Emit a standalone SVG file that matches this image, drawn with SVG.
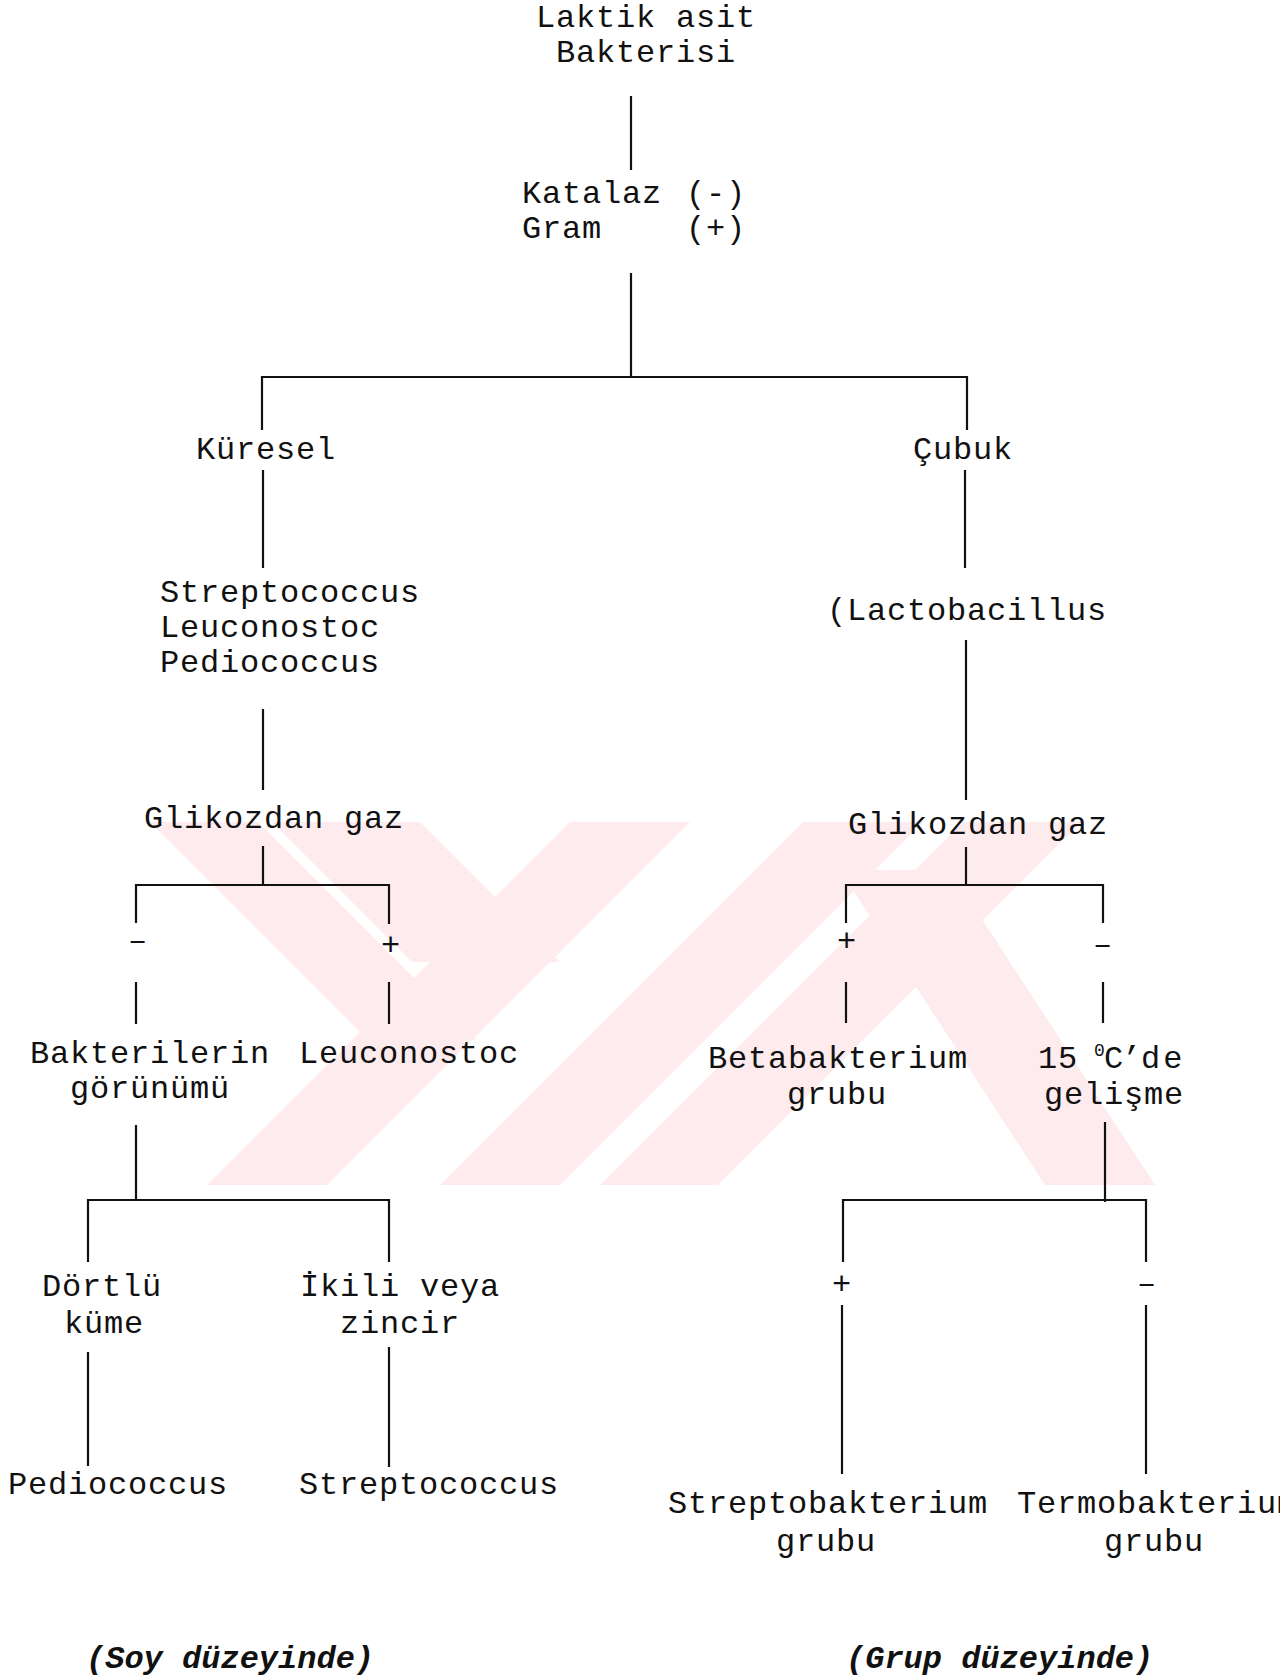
<svg xmlns="http://www.w3.org/2000/svg" width="1280" height="1680" viewBox="0 0 1280 1680">
<style>
  text { font-family: "Liberation Mono", "Courier New", monospace; font-size: 32px; letter-spacing: 0.8px; fill: #111; }
  .foot { font-weight: bold; font-style: italic; letter-spacing: 0; }
  .sup { font-size: 18px; letter-spacing: 0; }
  .mid { text-anchor: middle; }
  .conn line { stroke: #111; stroke-width: 2.2; stroke-linecap: butt; }
  .wm polygon { fill: #fdebee; }
</style>
<rect width="1280" height="1680" fill="#ffffff"/>
<g class="wm" id="watermark">
  <polygon points="150,822 258,822 476,1040 368,1040"/>
  <polygon points="272,822 420,822 560,962 412,962"/>
  <polygon points="207,1185 327,1185 690,822 570,822"/>
  <polygon points="440,1185 560,1185 923,822 803,822"/>
  <polygon points="600,1185 718,1185 1081,822 963,822"/>
  <polygon points="840,870 950,870 1155,1185 1045,1185"/>
</g>
<g class="conn" id="connectors">
  <line x1="631" y1="96" x2="631" y2="170"/>
  <line x1="631" y1="273" x2="631" y2="377"/>
  <line x1="262" y1="377" x2="967" y2="377"/>
  <line x1="262" y1="376" x2="262" y2="430"/>
  <line x1="967" y1="376" x2="967" y2="430"/>
  <line x1="263" y1="470" x2="263" y2="568"/>
  <line x1="965" y1="470" x2="965" y2="568"/>
  <line x1="263" y1="709" x2="263" y2="790"/>
  <line x1="966" y1="640" x2="966" y2="800"/>
  <line x1="263" y1="846" x2="263" y2="885"/>
  <line x1="135" y1="885" x2="390" y2="885"/>
  <line x1="136" y1="884" x2="136" y2="923"/>
  <line x1="389" y1="884" x2="389" y2="924"/>
  <line x1="136" y1="982" x2="136" y2="1024"/>
  <line x1="389" y1="982" x2="389" y2="1024"/>
  <line x1="136" y1="1125" x2="136" y2="1200"/>
  <line x1="87" y1="1200" x2="390" y2="1200"/>
  <line x1="88" y1="1199" x2="88" y2="1262"/>
  <line x1="389" y1="1199" x2="389" y2="1262"/>
  <line x1="88" y1="1352" x2="88" y2="1466"/>
  <line x1="389" y1="1347" x2="389" y2="1467"/>
  <line x1="966" y1="847" x2="966" y2="885"/>
  <line x1="846" y1="885" x2="1103" y2="885"/>
  <line x1="846" y1="884" x2="846" y2="923"/>
  <line x1="1103" y1="884" x2="1103" y2="923"/>
  <line x1="846" y1="982" x2="846" y2="1023"/>
  <line x1="1103" y1="982" x2="1103" y2="1023"/>
  <line x1="1105" y1="1122" x2="1105" y2="1202"/>
  <line x1="843" y1="1200" x2="1146" y2="1200"/>
  <line x1="843" y1="1199" x2="843" y2="1262"/>
  <line x1="1146" y1="1199" x2="1146" y2="1262"/>
  <line x1="842" y1="1305" x2="842" y2="1474"/>
  <line x1="1146" y1="1305" x2="1146" y2="1474"/>
</g>
<g id="n-root"><text x="536" y="27">Laktik asit</text><text x="556" y="62">Bakterisi</text></g>
<g id="n-katalaz"><text x="522" y="203">Katalaz</text><text x="686" y="203">(-)</text><text x="522" y="238">Gram</text><text x="686" y="238">(+)</text></g>
<g id="n-kuresel"><text x="196" y="459">Küresel</text></g>
<g id="n-cubuk"><text x="913" y="459">Çubuk</text></g>
<g id="n-cocci"><text x="160" y="602">Streptococcus</text><text x="160" y="637">Leuconostoc</text><text x="160" y="672">Pediococcus</text></g>
<g id="n-lacto"><text x="827" y="620">(Lactobacillus</text></g>
<g id="n-gaz-left"><text x="144" y="828">Glikozdan gaz</text></g>
<g id="n-gaz-right"><text x="848" y="834">Glikozdan gaz</text></g>
<g id="n-minus-left"><text x="138" y="950" class="mid">–</text></g>
<g id="n-plus-left"><text x="391" y="955" class="mid">+</text></g>
<g id="n-plus-right"><text x="847" y="951" class="mid">+</text></g>
<g id="n-minus-right"><text x="1103" y="954" class="mid">–</text></g>
<g id="n-gorunum"><text x="30" y="1063">Bakterilerin</text><text x="70" y="1098">görünümü</text></g>
<g id="n-leuco"><text x="299" y="1063">Leuconostoc</text></g>
<g id="n-beta"><text x="708" y="1068">Betabakterium</text><text x="787" y="1104">grubu</text></g>
<g id="n-15c"><text x="1038" y="1068">15</text><text x="1094" y="1056" class="sup">0</text><text x="1104" y="1068">C</text><text x="1122" y="1068">’</text><text x="1141" y="1068" style="letter-spacing:3px">de</text><text x="1044" y="1104">gelişme</text></g>
<g id="n-dortlu"><text x="42" y="1296">Dörtlü</text><text x="64" y="1333">küme</text></g>
<g id="n-ikili"><text x="300" y="1296">İkili veya</text><text x="340" y="1333">zincir</text></g>
<g id="n-plus-b"><text x="842" y="1294" class="mid">+</text></g>
<g id="n-minus-b"><text x="1147" y="1293" class="mid">–</text></g>
<g id="n-pedio"><text x="8" y="1494">Pediococcus</text></g>
<g id="n-strepto"><text x="299" y="1494">Streptococcus</text></g>
<g id="n-streptob"><text x="668" y="1513">Streptobakterium</text><text x="776" y="1551">grubu</text></g>
<g id="n-termo"><text x="1017" y="1513">Termobakterium</text><text x="1104" y="1551">grubu</text></g>
<g id="n-soy"><text x="86" y="1668" class="foot">(Soy düzeyinde)</text></g>
<g id="n-grup"><text x="846" y="1668" class="foot">(Grup düzeyinde)</text></g>
</svg>
